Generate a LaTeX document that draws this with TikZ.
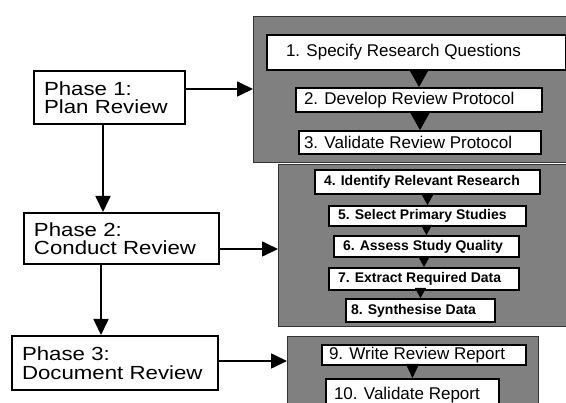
\documentclass[tikz,border=0pt]{standalone}
\usepackage{fontspec}
\setmainfont{Liberation Sans}
\newfontfamily\phasefont[FakeStretch=1.17]{Liberation Sans}
\usetikzlibrary{arrows.meta}
\definecolor{panelgray}{RGB}{128,128,128}
\tikzset{
  phasebox/.style={draw, line width=2pt, fill=white, anchor=north west, align=left,
    inner xsep=10pt, inner ysep=0pt, font=\phasefont\fontsize{19}{18.5}\selectfont},
  stepbox/.style={draw, line width=2pt, fill=white, anchor=north west, inner ysep=0pt,
    font=\fontsize{17}{17}\selectfont},
  boldbox/.style={stepbox, font=\bfseries\fontsize{14}{14}\selectfont},
  panel/.style={draw=black!80, line width=1.3pt, fill=panelgray, anchor=north west},
  phasearrow/.style={line width=1.7pt, -{Triangle[length=16pt,width=15pt]}},
  bigtip/.style={-{Triangle[length=17pt,width=19pt]}},
  smalltip/.style={-{Triangle[length=10pt,width=11pt]}},
  midtip/.style={-{Triangle[length=14pt,width=13pt]}}
}
\begin{document}
\begin{tikzpicture}[x=1pt,y=-1pt]
  \useasboundingbox (0,0) rectangle (566,403);
  \clip (0,0) rectangle (566,403);
  \path (253,16) node[panel, minimum width=320pt, minimum height=146pt] (pan1) {};
  \path (278,164) node[panel, minimum width=295pt, minimum height=162pt] (pan2) {};
  \path (287,336) node[panel, minimum width=251pt, minimum height=80pt] (pan3) {};
  \path (33,70) node[phasebox, text width=131pt, minimum height=53pt] (p1) {Phase 1:\\Plan Review};
  \path (23,212) node[phasebox, text width=175pt, minimum height=51pt] (p2) {Phase 2:\\Conduct Review};
  \path (11,335) node[phasebox, text width=186pt, minimum height=54pt] (p3) {Phase 3:\\Document Review};
  \path (266,34) node[stepbox, inner xsep=19pt, minimum height=35pt] (s1) {\makebox[261pt][l]{1. Specify Research Questions}};
  \path (295,87) node[stepbox, inner xsep=8pt, minimum height=24pt] (s2) {\makebox[230pt][l]{2. Develop Review Protocol}};
  \path (298,130) node[stepbox, inner xsep=5pt, minimum height=23pt] (s3) {\makebox[232pt][l]{3. Validate Review Protocol}};
  \path (314,169) node[boldbox, inner xsep=9pt, minimum height=24pt] (s4) {\makebox[207pt][l]{4. Identify Relevant Research}};
  \path (328,205) node[boldbox, inner xsep=9pt, minimum height=20pt] (s5) {\makebox[179pt][l]{5. Select Primary Studies}};
  \path (333,235) node[boldbox, inner xsep=9pt, minimum height=21pt] (s6) {\makebox[167pt][l]{6. Assess Study Quality}};
  \path (328,267) node[boldbox, inner xsep=9pt, minimum height=22pt] (s7) {\makebox[172pt][l]{7. Extract Required Data}};
  \path (345,298) node[boldbox, inner xsep=5pt, minimum height=23pt] (s8) {\makebox[139pt][l]{8. Synthesise Data}};
  \path (321,344) node[stepbox, inner xsep=7pt, minimum height=20pt] (s9) {\makebox[190pt][l]{9. Write Review Report}};
  \path (325,378) node[stepbox, inner xsep=8pt, minimum height=32pt] (s10) {\makebox[157pt][l]{10. Validate Report}};
  \coordinate (p1out) at ([yshift=8.5pt]p1.east);
  \coordinate (p2out) at ([yshift=-10.5pt]p2.east);
  \coordinate (p3out) at ([yshift=2pt]p3.east);
  \coordinate (p1down) at ([xshift=-6.5pt]p1.south);
  \coordinate (p2down) at ([xshift=-20.5pt]p2.south);
  \draw[phasearrow] (p1out) -- (p1out -| pan1.west);
  \draw[phasearrow] (p2out) -- (p2out -| pan2.west);
  \draw[phasearrow] (p3out) -- (p3out -| pan3.west);
  \draw[phasearrow] (p1down) -- (p1down |- p2.north);
  \draw[phasearrow] (p2down) -- (p2down |- p3.north);
  \draw[bigtip] (s1.south -| s2.north) -- (s2.north);
  \draw[bigtip] (s2.south -| s3.north) -- (s3.north);
  \draw[smalltip] (s4.south -| s5.north) -- (s5.north);
  \draw[smalltip] (s5.south -| s6.north) -- (s6.north);
  \draw[smalltip] (s6.south -| s7.north) -- (s7.north);
  \draw[smalltip] (s7.south -| s8.north) -- (s8.north);
  \draw[midtip] (s9.south -| s10.north) -- (s10.north);
\end{tikzpicture}
\end{document}
